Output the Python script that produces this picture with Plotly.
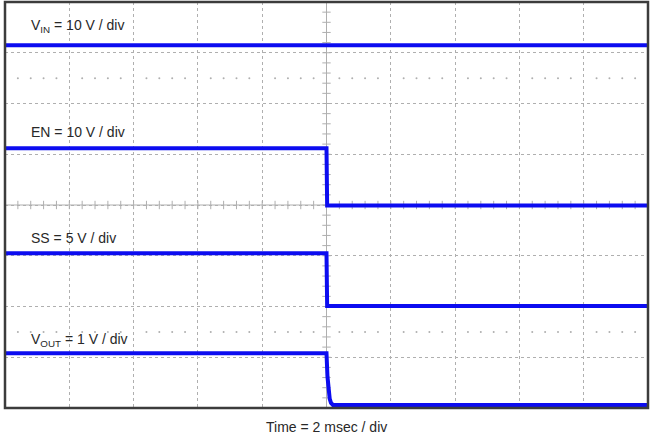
import numpy as np
import plotly.graph_objects as go

# time in ms (2 ms/div, 10 div), levels in divisions (8 div)
t_vin = [-10, 10]
vin = [7.15, 7.15]

t_en = [-10, 0, 0.02, 10]
en = [5.12, 5.12, 3.99, 3.99]

t_ss = [-10, 0, 0.02, 10]
ss = [3.05, 3.05, 2.01, 2.01]

t_vout = [-10, 0, 0.03, 0.06, 0.1, 0.14, 0.2, 10]
vout = [1.08, 1.08, 0.62, 0.35, 0.18, 0.1, 0.06, 0.06]

labels = ["V<sub>IN</sub> = 10 V / div", "EN = 10 V / div",
          "SS = 5 V / div", "V<sub>OUT</sub> = 1 V / div"]
label_y = [7.53, 5.44, 3.35, 1.34]
ground_levels = [6, 4, 2, 0]

TRACE = "rgb(12,12,240)"
GRID = "rgb(175,175,175)"
TXT = "rgb(40,40,40)"

fig = go.Figure()

# graticule sub-division dots
sub_x = [x for x in np.arange(-10, 10.01, 0.4) if abs(x / 2 - round(x / 2)) > 1e-6]
for yy in [6.5, 1.5]:
    fig.add_trace(go.Scatter(x=sub_x, y=[yy] * len(sub_x), mode="markers",
                             marker=dict(size=2, color=GRID), hoverinfo="skip", showlegend=False))

# center line ticks
cx = np.arange(-10, 10.01, 0.4)
fig.add_trace(go.Scatter(x=cx, y=[4] * len(cx), mode="markers",
                         marker=dict(symbol="line-ns", size=6, line=dict(width=1, color=GRID)),
                         hoverinfo="skip", showlegend=False))
cy = np.arange(0, 8.01, 0.2)
fig.add_trace(go.Scatter(x=[0] * len(cy), y=cy, mode="markers",
                         marker=dict(symbol="line-ew", size=6, line=dict(width=1, color=GRID)),
                         hoverinfo="skip", showlegend=False))

for tx, ty in [(t_vin, vin), (t_en, en), (t_ss, ss), (t_vout, vout)]:
    fig.add_trace(go.Scatter(x=tx, y=ty, mode="lines",
                             line=dict(color=TRACE, width=4), showlegend=False))

# ground markers
fig.add_trace(go.Scatter(x=[-10.1] * 4, y=ground_levels, mode="markers", cliponaxis=False,
                         marker=dict(symbol="triangle-right", size=6, color="rgb(60,60,60)"),
                         showlegend=False))

for lab, ly in zip(labels, label_y):
    fig.add_annotation(x=-9.25, y=ly, text=lab, showarrow=False, xanchor="left",
                       yanchor="middle", font=dict(size=14, color=TXT))

fig.add_annotation(x=0.5, xref="paper", y=-0.047, yref="paper", text="Time = 2 msec / div",
                   showarrow=False, xanchor="center", yanchor="middle",
                   font=dict(size=14, color=TXT))

# center solid lines
fig.add_shape(type="line", x0=-10, x1=10, y0=4, y1=4, line=dict(color=GRID, width=1), layer="below")
fig.add_shape(type="line", x0=0, x1=0, y0=0, y1=8, line=dict(color=GRID, width=1), layer="below")
# frame
fig.add_shape(type="rect", xref="paper", yref="paper", x0=0, x1=1, y0=0, y1=1,
              line=dict(color="rgb(60,60,60)", width=2.5))

fig.update_xaxes(range=[-10, 10], dtick=2, showgrid=True, gridcolor=GRID, griddash="dot",
                 gridwidth=1, zeroline=False, showticklabels=False, ticks="")
fig.update_yaxes(range=[0, 8], dtick=1, showgrid=True, gridcolor=GRID, griddash="dot",
                 gridwidth=1, zeroline=False, showticklabels=False, ticks="")

fig.update_layout(width=651, height=434, margin=dict(l=5, r=3, t=2, b=26),
                  plot_bgcolor="white", paper_bgcolor="white",
                  font=dict(family="Liberation Sans, Arial, sans-serif"))

fig.write_html("out.html", config={"displayModeBar": False},
               post_script="document.body.style.margin='0';document.body.style.overflow='hidden';")
